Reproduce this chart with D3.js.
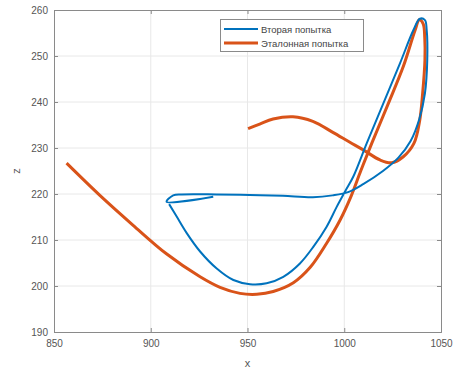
<!DOCTYPE html>
<html>
<head>
<meta charset="utf-8">
<script src="https://cdn.jsdelivr.net/npm/d3@7"></script>
<style>
  body { margin: 0; background: #fff; }
  text { font-family: "Liberation Sans", Arial, sans-serif; }
</style>
</head>
<body>
<script>
var w = 454;
var h = 371;

var xTicks = [850, 900, 950, 1000, 1050];
var zTicks = [190, 200, 210, 220, 230, 240, 250, 260];
var seriesNames = ["Вторая попытка", "Эталонная попытка"];

// second attempt (blue)
var blueX = [932.3, 908.2, 911.6, 916, 934, 951.2, 968.3, 983.8, 994, 1002, 1010, 1020, 1028, 1034.3, 1038.8, 1041.7, 1042.9, 1042.6, 1041.7, 1039.1, 1035.7, 1028.8, 1020.2, 1011.6, 1004.7, 1000.5, 996.1, 990.9, 984.0, 977.1, 968.5, 959.9, 951.3, 942.7, 934.1, 925.5, 918.6, 913.4, 909.5];
var blueZ = [219.4, 218.3, 219.7, 219.9, 219.9, 219.8, 219.6, 219.3, 219.7, 220.4, 222.2, 225, 227.9, 231.5, 236.3, 241.9, 249.1, 255.7, 257.8, 258.1, 255.6, 248.4, 239.7, 231, 223.8, 220.6, 217.2, 212.9, 208.5, 204.9, 202.0, 200.6, 200.4, 201.3, 203.8, 207.5, 211.5, 215.1, 217.8];

// reference attempt (orange)
var orangeX = [856.5, 873.7, 890.9, 908.1, 925.5, 935.8, 946.1, 954.8, 963.3, 973.7, 982.3, 990.9, 997.8, 1003.5, 1008.5, 1014.2, 1022.8, 1030.5, 1036.6, 1038.8, 1040.8, 1041.6, 1041.7, 1040.5, 1039.0, 1036.0, 1030.5, 1024.5, 1018.5, 1009.8, 1002.7, 994.1, 983.8, 973.5, 963.2, 956.3, 950.3];
var orangeZ = [226.7, 219.7, 213.2, 207.0, 202.0, 199.7, 198.4, 198.2, 198.8, 200.7, 204.0, 209.3, 214.3, 219.5, 225, 231, 239.7, 247.7, 255.6, 257.9, 257, 254, 249.1, 241.8, 236, 231, 228.1, 226.8, 227.4, 229.6, 231.3, 233.4, 235.8, 236.8, 236.3, 235.2, 234.2];

var colors = ["#0072bd", "#d95319"];

var mLeft = 54, mRight = 441, mTop = 10, mBottom = 332;

var svg = d3.select("body").append("svg").attr("width", w).attr("height", h);

var x = d3.scaleLinear().domain([850, 1050]).range([mLeft, mRight]);
var z = d3.scaleLinear().domain([190, 260]).range([mBottom, mTop]);

// grid
svg.append("g").selectAll("line").data(xTicks.slice(1, -1)).enter().append("line")
  .attr("x1", function (d) { return x(d); })
  .attr("x2", function (d) { return x(d); })
  .attr("y1", mTop).attr("y2", mBottom)
  .attr("stroke", "#e8e8e8").attr("stroke-width", 1);
svg.append("g").selectAll("line").data(zTicks.slice(1, -1)).enter().append("line")
  .attr("x1", mLeft).attr("x2", mRight)
  .attr("y1", function (d) { return z(d); })
  .attr("y2", function (d) { return z(d); })
  .attr("stroke", "#e8e8e8").attr("stroke-width", 1);

// axes
svg.append("g").attr("transform", "translate(0," + mBottom + ")")
  .call(d3.axisBottom(x).tickValues(xTicks).tickSize(-4).tickPadding(8).tickFormat(d3.format("d")));
svg.append("g").attr("transform", "translate(" + mLeft + ",0)")
  .call(d3.axisLeft(z).tickValues(zTicks).tickSize(-4).tickPadding(6).tickFormat(d3.format("d")));
svg.append("g").attr("transform", "translate(0," + mTop + ")")
  .call(d3.axisTop(x).tickValues(xTicks).tickSize(-4).tickFormat(""));
svg.append("g").attr("transform", "translate(" + mRight + ",0)")
  .call(d3.axisRight(z).tickValues(zTicks).tickSize(-4).tickFormat(""));

svg.selectAll(".domain").attr("stroke", "#8a8a8a");
svg.selectAll(".tick line").attr("stroke", "#8a8a8a");
svg.selectAll(".tick text").attr("fill", "#555").attr("font-size", 10)
  .attr("font-family", "Liberation Sans, Arial, sans-serif");

svg.append("text").attr("x", (mLeft + mRight) / 2).attr("y", 367)
  .attr("text-anchor", "middle").attr("font-size", 11).attr("fill", "#555").text("x");
svg.append("text").attr("transform", "translate(20," + ((mTop + mBottom) / 2) + ") rotate(-90)")
  .attr("text-anchor", "middle").attr("font-size", 11).attr("fill", "#555").text("z");

// lines
var line = d3.line()
  .x(function (d) { return x(d[0]); })
  .y(function (d) { return z(d[1]); })
  .curve(d3.curveCatmullRom);

var series = [d3.zip(blueX, blueZ), d3.zip(orangeX, orangeZ)];
var widths = [2, 3];

svg.append("g").selectAll("path").data([1, 0]).enter().append("path")
  .attr("d", function (i) { return line(series[i]); })
  .attr("fill", "none")
  .attr("stroke", function (i) { return colors[i]; })
  .attr("stroke-width", function (i) { return widths[i]; })
  .attr("stroke-linejoin", "round");

// legend
var lg = svg.append("g");
lg.append("rect").attr("x", 220.5).attr("y", 19.5).attr("width", 143).attr("height", 32)
  .attr("fill", "#fff").attr("stroke", "#8a8a8a").attr("stroke-width", 1);
var items = lg.selectAll("g.item").data(seriesNames).enter().append("g")
  .attr("transform", function (d, i) { return "translate(0," + (29 + i * 14) + ")"; });
items.append("line").attr("x1", 224).attr("x2", 258).attr("y1", 0).attr("y2", 0)
  .attr("stroke", function (d, i) { return colors[i]; })
  .attr("stroke-width", function (d, i) { return widths[i]; });
items.append("text").attr("x", 261).attr("y", 3.5).attr("font-size", 9.5).attr("fill", "#444")
  .text(function (d) { return d; });
</script>
</body>
</html>
